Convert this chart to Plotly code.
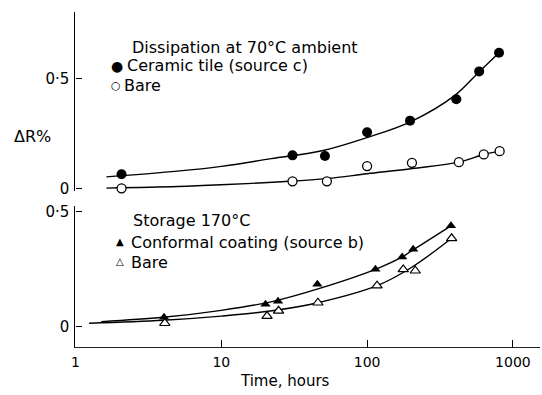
import plotly.graph_objects as go

W, H = 542, 395

# ---------------- data ----------------
# Top panel: dissipation at 70°C ambient
ceramic_t = [2.07, 30.8, 51.4, 100, 197, 409, 587, 803]
ceramic_dr = [0.066, 0.152, 0.149, 0.257, 0.31, 0.407, 0.534, 0.619]
bare_top_t = [2.07, 30.8, 53, 100, 203, 426, 631, 811]
bare_top_dr = [0.002, 0.034, 0.034, 0.103, 0.118, 0.121, 0.156, 0.171]

ceramic_fit_t = [1.63, 5, 10, 22, 50, 100, 200, 400, 590, 803]
ceramic_fit_dr = [0.054, 0.08, 0.102, 0.137, 0.174, 0.233, 0.306, 0.425, 0.534, 0.619]
bare_top_fit_t = [1.63, 5, 10, 26, 53, 100, 205, 426, 631, 811]
bare_top_fit_dr = [0.003, 0.01, 0.018, 0.032, 0.046, 0.068, 0.092, 0.121, 0.156, 0.171]

# Bottom panel: storage 170°C
conformal_t = [4.05, 20.1, 24.5, 45.6, 114, 174, 207, 376]
conformal_dr = [0.040, 0.096, 0.110, 0.183, 0.248, 0.302, 0.335, 0.437]
bare_bot_t = [4.1, 20.6, 24.7, 46, 117, 177, 214, 380]
bare_bot_dr = [0.014, 0.045, 0.068, 0.103, 0.177, 0.248, 0.242, 0.383]

conformal_fit_t = [1.5, 4, 10, 22.3, 46, 114, 174, 207, 376]
conformal_fit_dr = [0.021, 0.04, 0.07, 0.108, 0.163, 0.248, 0.302, 0.333, 0.437]
bare_bot_fit_t = [1.24, 4, 10, 22.3, 46, 117, 200, 380]
bare_bot_fit_dr = [0.014, 0.027, 0.045, 0.068, 0.103, 0.177, 0.255, 0.383]

x_tickvals = [1, 10, 100, 1000]
x_ticktext = ["1", "10", "100", "1000"]
y_tickvals = [0, 0.5]
y_ticktext = ["0", "0·5"]

FONT = "DejaVu Sans"
INK = "black"


def px(x):
    return x / W


def py(y):
    return 1 - y / H


fig = go.Figure()

line_style = dict(color=INK, width=1.4, shape="spline", smoothing=1.0)

# top panel (xaxis2 / yaxis2)
fig.add_trace(go.Scatter(x=ceramic_fit_t, y=ceramic_fit_dr, mode="lines", line=line_style,
                         xaxis="x2", yaxis="y2", hoverinfo="skip"))
fig.add_trace(go.Scatter(x=bare_top_fit_t, y=bare_top_fit_dr, mode="lines", line=line_style,
                         xaxis="x2", yaxis="y2", hoverinfo="skip"))
fig.add_trace(go.Scatter(x=ceramic_t, y=ceramic_dr, mode="markers", name="Ceramic tile (source c)",
                         marker=dict(symbol="circle", size=10, color=INK, line=dict(width=0)),
                         xaxis="x2", yaxis="y2", cliponaxis=False))
fig.add_trace(go.Scatter(x=bare_top_t, y=bare_top_dr, mode="markers", name="Bare",
                         marker=dict(symbol="circle", size=9, color="white", line=dict(width=1.3, color=INK)),
                         xaxis="x2", yaxis="y2", cliponaxis=False))

# bottom panel (xaxis / yaxis)
fig.add_trace(go.Scatter(x=conformal_fit_t, y=conformal_fit_dr, mode="lines", line=line_style,
                         hoverinfo="skip"))
fig.add_trace(go.Scatter(x=bare_bot_fit_t, y=bare_bot_fit_dr, mode="lines", line=line_style,
                         hoverinfo="skip"))
fig.add_trace(go.Scatter(x=conformal_t, y=conformal_dr, mode="markers", name="Conformal coating (source b)",
                         marker=dict(symbol="triangle-up", size=9, color=INK, line=dict(width=0)),
                         cliponaxis=False))
fig.add_trace(go.Scatter(x=bare_bot_t, y=bare_bot_dr, mode="markers", name="Bare",
                         marker=dict(symbol="triangle-up", size=9, color="white", line=dict(width=1.2, color=INK)),
                         cliponaxis=False))

x_dom = [px(72), px(540)]
x_range = [0, (540 - 72) / 146.9]

top_dom = [py(192.3), py(8)]
top_range = [-0.01, (190 - 8) / 226]
bot_dom = [py(352.7), py(208.3)]
bot_range = [-(352.7 - 331.7) / 236.8, (331.7 - 208.3) / 236.8]

yaxis_common = dict(showline=True, linecolor=INK, linewidth=1.2, ticks="inside", ticklen=6,
                    tickcolor=INK, tickwidth=1.2, tickvals=y_tickvals, ticktext=y_ticktext,
                    showgrid=False, zeroline=False, tickfont=dict(family=FONT, size=15, color=INK),
                    ticklabelstandoff=2)

fig.update_layout(
    width=W, height=H,
    margin=dict(l=0, r=0, t=0, b=0),
    paper_bgcolor="white", plot_bgcolor="white",
    showlegend=False,
    font=dict(family=FONT, color=INK),
    xaxis=dict(type="log", domain=x_dom, range=x_range, anchor="y",
               showline=True, linecolor="#222", linewidth=1.2, ticks="inside", ticklen=7,
               tickcolor=INK, tickwidth=1.2, tickvals=x_tickvals, ticktext=x_ticktext,
               showgrid=False, zeroline=False, tickfont=dict(family=FONT, size=14, color=INK),
               ticklabelstandoff=2),
    yaxis=dict(domain=bot_dom, range=bot_range, anchor="x", **yaxis_common),
    xaxis2=dict(type="log", domain=x_dom, range=x_range, anchor="y2", visible=False),
    yaxis2=dict(domain=top_dom, range=top_range, anchor="x2", **yaxis_common),
)

anns = []


def label(text, x, y, size=16, xanchor="left"):
    anns.append(dict(text=text, x=px(x), y=py(y), xref="paper", yref="paper",
                     xanchor=xanchor, yanchor="middle", showarrow=False,
                     font=dict(family=FONT, size=size, color=INK)))


label("Dissipation at 70°C ambient", 127, 45)
label("●", 114, 63.5, size=14, xanchor="center")
label("Ceramic tile (source c)", 122, 63.5)
label("○", 113, 84, size=11, xanchor="center")
label("Bare", 119, 84)
label("ΔR%", 29, 136, xanchor="center")

label("Storage 170°C", 128, 223)
label("▲", 116.5, 244, size=10, xanchor="center")
label("Conformal coating (source b)", 125.5, 245)
label("△", 116.5, 265, size=10, xanchor="center")
label("Bare", 125.5, 266)

label("Time, hours", 283, 388, size=15, xanchor="center")

fig.update_layout(annotations=anns)

fig.write_html("out.html")
